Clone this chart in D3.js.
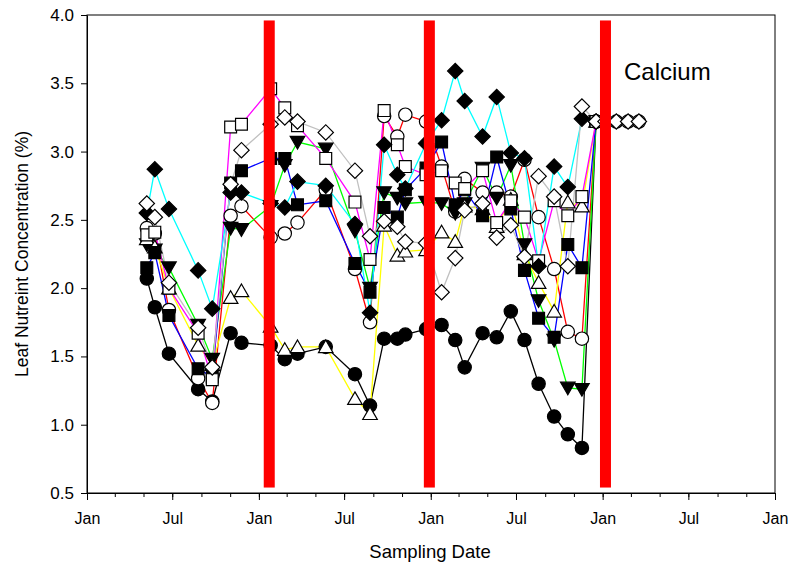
<!DOCTYPE html>
<html><head><meta charset="utf-8">
<script src="https://cdn.jsdelivr.net/npm/d3@7"></script>
<style>body{margin:0;background:#fff;} text{font-family:Arial,"Liberation Sans",sans-serif;}</style>
</head><body><svg id="c" width="789" height="572"></svg>
<script>
const dates = ["2001-05-08","2001-05-25","2001-06-24","2001-08-25","2001-09-24","2001-11-02","2001-11-25",
"2002-01-26","2002-02-25","2002-03-24","2002-05-23","2002-07-24","2002-08-25","2002-09-24","2002-10-22","2002-11-08","2002-12-22",
"2003-01-24","2003-02-22","2003-03-14","2003-04-21","2003-05-21","2003-06-20","2003-07-19","2003-08-18","2003-09-20","2003-10-19","2003-11-18","2003-12-18"];
const extraDates = ["2004-01-07","2004-01-30","2004-02-24","2004-03-18"];
const extraValues = [3.22,3.22,3.22,3.22];
const filledCircle  = [2.07,1.86,1.52,1.26,1.17,1.67,1.60,1.58,1.48,1.52,1.57,1.37,1.14,1.63,1.63,1.66,1.70,1.73,1.62,1.42,1.67,1.64,1.83,1.62,1.30,1.06,0.93,0.83,3.22];
const openCircle    = [2.44,2.40,1.84,1.34,1.16,2.53,2.60,2.37,2.40,2.48,2.72,2.14,1.75,3.26,3.11,3.27,3.22,2.89,2.56,2.80,2.70,2.70,2.67,2.94,2.52,2.14,1.68,1.63,3.22];
const filledTriDown = [2.32,2.28,2.15,1.73,1.48,2.44,2.43,2.60,2.90,3.07,3.02,2.42,2.00,2.70,2.66,2.62,2.63,2.62,2.55,2.62,2.88,2.66,2.90,2.32,1.91,1.62,1.27,1.26,3.22];
const openTriUp     = [2.36,2.30,2.00,1.58,1.44,1.93,1.98,1.72,1.55,1.57,1.57,1.19,1.08,2.46,2.24,2.27,2.28,2.41,2.34,2.60,2.58,2.45,2.65,2.25,2.04,1.83,2.63,2.60,3.22];
const filledSquare  = [2.15,2.26,1.80,1.41,1.35,2.77,2.86,2.95,2.95,2.61,2.64,2.18,1.97,2.59,2.52,2.72,2.88,3.07,2.61,2.72,2.53,2.96,2.58,2.13,1.78,1.64,2.32,2.15,3.22];
const openSquare    = [2.39,2.41,2.00,1.67,1.33,3.18,3.20,3.46,3.32,3.19,2.95,2.63,2.21,3.30,3.05,2.89,2.83,2.86,2.77,2.73,2.86,2.48,2.64,2.52,2.20,2.64,2.53,2.67,3.22];
const filledDiamond = [2.55,2.87,2.58,2.13,1.85,2.70,2.70,2.62,2.59,2.78,2.75,2.47,1.82,3.05,2.83,2.73,3.06,3.23,3.59,3.37,3.11,3.40,2.99,2.95,2.16,2.89,2.74,3.24,3.22];
const openDiamond   = [2.62,2.52,2.04,1.71,1.42,2.76,3.01,3.20,3.25,3.22,3.14,2.86,2.38,2.49,2.45,2.34,2.33,1.97,2.22,2.57,2.62,2.37,2.46,2.23,2.82,2.67,2.16,3.33,3.22];
const barDates = ["2002-01-23","2002-12-29","2004-01-07"];
const yTicks = [0.5,1.0,1.5,2.0,2.5,3.0,3.5,4.0];
const xDomain = ["2001-01-01","2005-01-01"];
const yDomain = [0.5,4.0];
const chartTitle = "Calcium";
const xTitle = "Sampling Date";
const yTitle = "Leaf Nutreint Concentration (%)";

const parse = d3.timeParse("%Y-%m-%d");
const series = [
  {vals: filledCircle,  line:"#000000", sym:"circle",  fill:"#000"},
  {vals: openCircle,    line:"#ff0000", sym:"circle",  fill:"#fff", extra:true},
  {vals: filledTriDown, line:"#00ff00", sym:"tridown", fill:"#000"},
  {vals: openTriUp,     line:"#ffff00", sym:"triup",   fill:"#fff"},
  {vals: filledSquare,  line:"#0000ff", sym:"square",  fill:"#000"},
  {vals: openSquare,    line:"#ff00ff", sym:"square",  fill:"#fff"},
  {vals: filledDiamond, line:"#00ffff", sym:"diamond", fill:"#000"},
  {vals: openDiamond,   line:"#c0c0c0", sym:"diamond", fill:"#fff", extra:true}
];

const W=789,H=572,m={l:87,r:14,t:15,b:79};
const svg=d3.select("#c");
const x=d3.scaleTime().domain(xDomain.map(parse)).range([m.l,W-m.r]);
const y=d3.scaleLinear().domain(yDomain).range([H-m.b,m.t]);

const g=svg.append("g");
const line=d3.line().x(d=>x(d.d)).y(d=>y(d.v));
const symPath={
  circle:d3.symbol().type(d3.symbolCircle).size(140)(),
  square:d3.symbol().type(d3.symbolSquare).size(140)(),
  diamond:d3.symbol().type(d3.symbolSquare).size(118)(),
  triup:d3.symbol().type(d3.symbolTriangle).size(92)(),
  tridown:d3.symbol().type(d3.symbolTriangle).size(92)()
};
const symRot={circle:0,square:0,diamond:45,triup:0,tridown:180};

series.forEach(s=>{
  let pts=dates.map((d,i)=>({d:parse(d),v:s.vals[i]}));
  if(s.extra) pts=pts.concat(extraDates.map((d,i)=>({d:parse(d),v:extraValues[i]})));
  s.pts=pts;
  g.append("path").datum(pts).attr("d",line).attr("fill","none").attr("stroke",s.line).attr("stroke-width",1.3);
});
series.forEach(s=>{
  g.selectAll(null).data(s.pts).enter().append("path")
   .attr("d",symPath[s.sym])
   .attr("transform",d=>`translate(${x(d.d)},${y(d.v)+(s.sym==="triup"?1.5:s.sym==="tridown"?-1.5:0)}) rotate(${symRot[s.sym]})`)
   .attr("fill",s.fill).attr("stroke","#000").attr("stroke-width",1.2);
});

// red bars
svg.selectAll(".bar").data(barDates).enter().append("rect")
  .attr("x",d=>x(parse(d))-5.5).attr("width",11)
  .attr("y",y(3.96)).attr("height",y(0.54)-y(3.96)).attr("fill","#ff0000");

// frame
svg.append("rect").attr("x",m.l).attr("y",m.t).attr("width",W-m.l-m.r).attr("height",H-m.t-m.b)
  .attr("fill","none").attr("stroke","#000").attr("stroke-width",1);

// axes
const ya=svg.append("g").attr("transform",`translate(${m.l},0)`)
  .call(d3.axisLeft(y).tickValues(yTicks).tickFormat(d3.format(".1f")).tickSize(6).tickSizeOuter(0).tickPadding(7));
ya.selectAll("text").attr("font-size",17).attr("fill","#000");
const xa=svg.append("g").attr("transform",`translate(0,${H-m.b})`)
  .call(d3.axisBottom(x).ticks(d3.timeMonth.every(6)).tickFormat(d3.timeFormat("%b")).tickSize(7).tickSizeOuter(0).tickPadding(13));
xa.selectAll("text").attr("font-size",16).attr("fill","#000");
svg.append("g").attr("transform",`translate(0,${H-m.b})`)
  .call(d3.axisBottom(x).ticks(d3.timeMonth.every(2)).tickFormat("").tickSize(4).tickSizeOuter(0))
  .select(".domain").remove();
svg.selectAll(".domain").attr("stroke","#000");

svg.append("text").attr("x",(m.l+W-m.r)/2-1).attr("y",558).attr("text-anchor","middle").attr("font-size",18.5).text(xTitle);
svg.append("text").attr("transform",`translate(28,${(m.t+H-m.b)/2}) rotate(-90)`).attr("text-anchor","middle").attr("font-size",17.5).text(yTitle);
svg.append("text").attr("x",624).attr("y",80).attr("font-size",24).text(chartTitle);
</script></body></html>
